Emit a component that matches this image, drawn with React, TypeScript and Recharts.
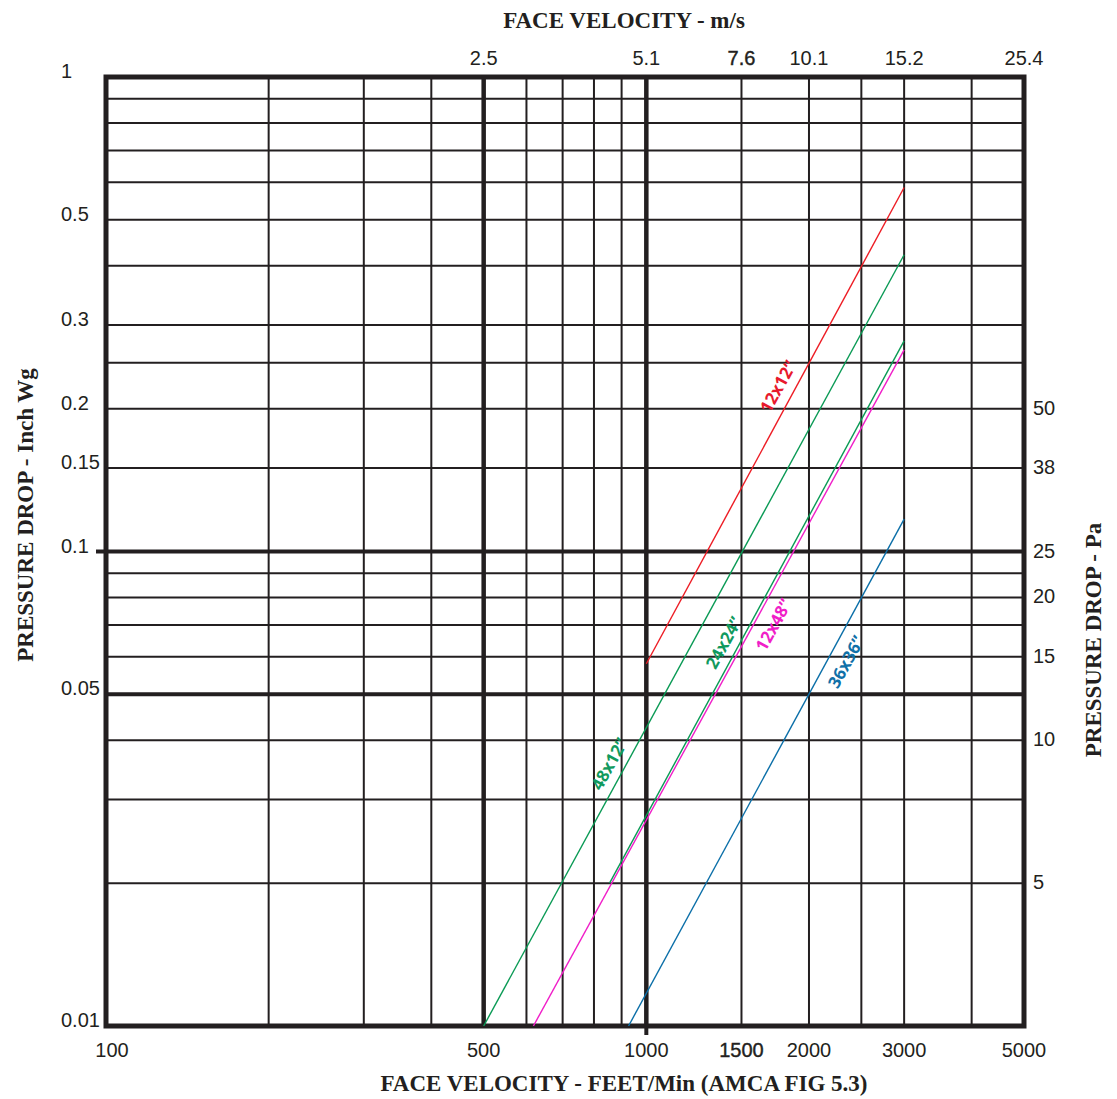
import React from 'react';
import {
  ComposedChart,
  Line,
  XAxis,
  YAxis,
  ReferenceLine,
  ReferenceArea,
  ReferenceDot,
} from 'recharts';

// grid of the log-log sheet
const velocityGrid = [200, 300, 400, 500, 600, 700, 800, 900, 1000, 1500, 2000, 2500, 3000, 4000];
const pressureGrid = [0.9, 0.8, 0.7, 0.6, 0.5, 0.4, 0.3, 0.25, 0.2, 0.15, 0.1, 0.09, 0.08, 0.07, 0.06, 0.05, 0.04, 0.03, 0.02];
const heavyVelocity = [500, 1000];
const heavyPressure = [0.1, 0.05];

// axis ticks
const fpmTicks = [100, 500, 1000, 1500, 2000, 3000, 5000];
const msTicks = [500, 1000, 1500, 2000, 3000, 5000];
const msLabels = ['2.5', '5.1', '7.6', '10.1', '15.2', '25.4'];
const wgTicks = [1, 0.5, 0.3, 0.2, 0.15, 0.1, 0.05, 0.01];
const paTicks = [0.2, 0.15, 0.1, 0.08, 0.06, 0.04, 0.02];
const paLabels = ['50', '38', '25', '20', '15', '10', '5'];

// filter size curves (velocity ft/min, pressure drop in. wg)
const size12x12 = [{ v: 1000, p: 0.058 }, { v: 3000, p: 0.585 }];
const size48x12 = [{ v: 500, p: 0.01 }, { v: 3000, p: 0.422 }];
const size24x24 = [{ v: 855, p: 0.02 }, { v: 3000, p: 0.278 }];
const size12x48 = [{ v: 618, p: 0.01 }, { v: 3000, p: 0.266 }];
const size36x36 = [{ v: 927, p: 0.01 }, { v: 3000, p: 0.117 }];

const seriesData = [size12x12, size48x12, size24x24, size12x48, size36x36];
const seriesNames = ['12x12”', '48x12”', '24x24”', '12x48”', '36x36”'];
const seriesColors = ['#ed1c24', '#0a9a55', '#0a9a55', '#f01ec8', '#0b6fa8'];
const labelColors = ['#e8192c', '#119a5e', '#119a5e', '#f01ec8', '#1070a8'];

// where each curve name is written
const labelV = [1751, 853, 1389, 1717, 2339];
const labelP = [0.223, 0.0357, 0.0643, 0.0701, 0.0586];

const INK = '#231f20';
const SANS = "'Liberation Sans', Arial, sans-serif";
const SERIF = "'Liberation Serif', 'Times New Roman', serif";

const BottomTick = (props: any) => {
  const { x, y, payload, index } = props;
  return (
    <g>
      {payload.value === 1000 && <line x1={x} x2={x} y1={y} y2={y + 9} stroke={INK} strokeWidth={4} />}
      <text
        x={x + (index === 0 ? 6 : 0)}
        y={y + 31}
        textAnchor="middle"
        fontFamily={SANS}
        fontSize={20}
        fill={INK}
        stroke={payload.value === 1500 ? INK : 'none'}
        strokeWidth={0.4}
      >
        {payload.value}
      </text>
    </g>
  );
};

const TopTick = (props: any) => {
  const { x, y, payload } = props;
  const i = msTicks.indexOf(payload.value);
  return (
    <text
      x={x}
      y={y - 12}
      textAnchor="middle"
      fontFamily={SANS}
      fontSize={20}
      fill={INK}
      stroke={payload.value === 1500 ? INK : 'none'}
      strokeWidth={0.4}
    >
      {msLabels[i]}
    </text>
  );
};

const LeftTick = (props: any) => {
  const { x, y, payload } = props;
  return (
    <g>
      {payload.value === 0.1 && <line x1={x - 10} x2={x} y1={y} y2={y} stroke={INK} strokeWidth={4} />}
      <text x={x - 45} y={y + 1} textAnchor="start" fontFamily={SANS} fontSize={20} fill={INK}>
        {payload.value}
      </text>
    </g>
  );
};

const RightTick = (props: any) => {
  const { x, y, payload } = props;
  const i = paTicks.indexOf(payload.value);
  return (
    <text x={x + 9} y={y + 6} textAnchor="start" fontFamily={SANS} fontSize={20} fill={INK}>
      {paLabels[i]}
    </text>
  );
};

const title = (text: string, cx: number, cy: number, angle: number) => () => (
  <text
    x={cx}
    y={cy}
    transform={`rotate(${angle} ${cx} ${cy})`}
    textAnchor="middle"
    fontFamily={SERIF}
    fontWeight="bold"
    fontSize={23}
    fill={INK}
  >
    {text}
  </text>
);

const curveLabel = (i: number) => (props: any) => {
  const vb = props.viewBox || {};
  const cx = vb.x + (vb.width || 0) / 2;
  const cy = vb.y + (vb.height || 0) / 2;
  return (
    <text
      x={cx}
      y={cy}
      transform={`rotate(-61 ${cx} ${cy})`}
      textAnchor="middle"
      dominantBaseline="central"
      fontFamily="'Open Sans', sans-serif"
      fontWeight={700}
      fontSize={17}
      fill={labelColors[i]}
    >
      {seriesNames[i]}
    </text>
  );
};

export default function App() {
  return (
    <div style={{ position: 'absolute', left: 0, top: 0, width: 1117, height: 1099, background: '#fff' }}>
      <ComposedChart width={1117} height={1099} margin={{ top: 0, right: 0, bottom: 0, left: 0 }}>
        <XAxis
          xAxisId="fpm"
          orientation="bottom"
          dataKey="v"
          type="number"
          scale="log"
          domain={[100, 5000]}
          allowDataOverflow
          ticks={fpmTicks}
          interval={0}
          height={73}
          tickSize={0}
          tickMargin={0}
          tickLine={false}
          axisLine={false}
          tick={BottomTick}
          label={title('FACE VELOCITY - FEET/Min (AMCA FIG 5.3)', 624, 1091, 0)}
        />
        <XAxis
          xAxisId="ms"
          orientation="top"
          dataKey="v"
          type="number"
          scale="log"
          domain={[100, 5000]}
          allowDataOverflow
          ticks={msTicks}
          interval={0}
          height={77}
          tickSize={0}
          tickMargin={0}
          tickLine={false}
          axisLine={false}
          tick={TopTick}
          label={title('FACE VELOCITY - m/s', 624, 28, 0)}
        />
        <YAxis
          yAxisId="wg"
          orientation="left"
          type="number"
          scale="log"
          domain={[0.01, 1]}
          allowDataOverflow
          ticks={wgTicks}
          interval={0}
          width={106}
          tickSize={0}
          tickMargin={0}
          tickLine={false}
          axisLine={false}
          tick={LeftTick}
          label={title('PRESSURE DROP - Inch Wg', 33, 515, -90)}
        />
        <YAxis
          yAxisId="pa"
          orientation="right"
          type="number"
          scale="log"
          domain={[0.01, 1]}
          allowDataOverflow
          ticks={paTicks}
          interval={0}
          width={93}
          tickSize={0}
          tickMargin={0}
          tickLine={false}
          axisLine={false}
          tick={RightTick}
          label={title('PRESSURE DROP - Pa', 1101, 640, -90)}
        />

        {velocityGrid.map((v) => (
          <ReferenceLine
            key={`vg-${v}`}
            x={v}
            xAxisId="fpm"
            yAxisId="wg"
            stroke={INK}
            strokeWidth={heavyVelocity.includes(v) ? 4.5 : 2}
            zIndex={100}
          />
        ))}
        {pressureGrid.map((p) => (
          <ReferenceLine
            key={`pg-${p}`}
            y={p}
            xAxisId="fpm"
            yAxisId="wg"
            stroke={INK}
            strokeWidth={heavyPressure.includes(p) ? 4 : 2}
            zIndex={100}
          />
        ))}

        <ReferenceArea
          x1={100}
          x2={5000}
          y1={0.01}
          y2={1}
          xAxisId="fpm"
          yAxisId="wg"
          fill="none"
          stroke={INK}
          strokeWidth={5}
          zIndex={150}
        />

        {seriesData.map((d, i) => (
          <Line
            key={seriesNames[i]}
            data={d}
            dataKey="p"
            xAxisId="fpm"
            yAxisId="wg"
            type="linear"
            stroke={seriesColors[i]}
            strokeWidth={1.4}
            dot={false}
            activeDot={false}
            legendType="none"
            isAnimationActive={false}
            zIndex={400}
          />
        ))}

        {seriesNames.map((n, i) => (
          <ReferenceDot
            key={`lbl-${n}`}
            x={labelV[i]}
            y={labelP[i]}
            xAxisId="fpm"
            yAxisId="wg"
            r={2}
            fill="none"
            stroke="none"
            zIndex={2000}
            label={curveLabel(i)}
          />
        ))}
      </ComposedChart>
    </div>
  );
}
